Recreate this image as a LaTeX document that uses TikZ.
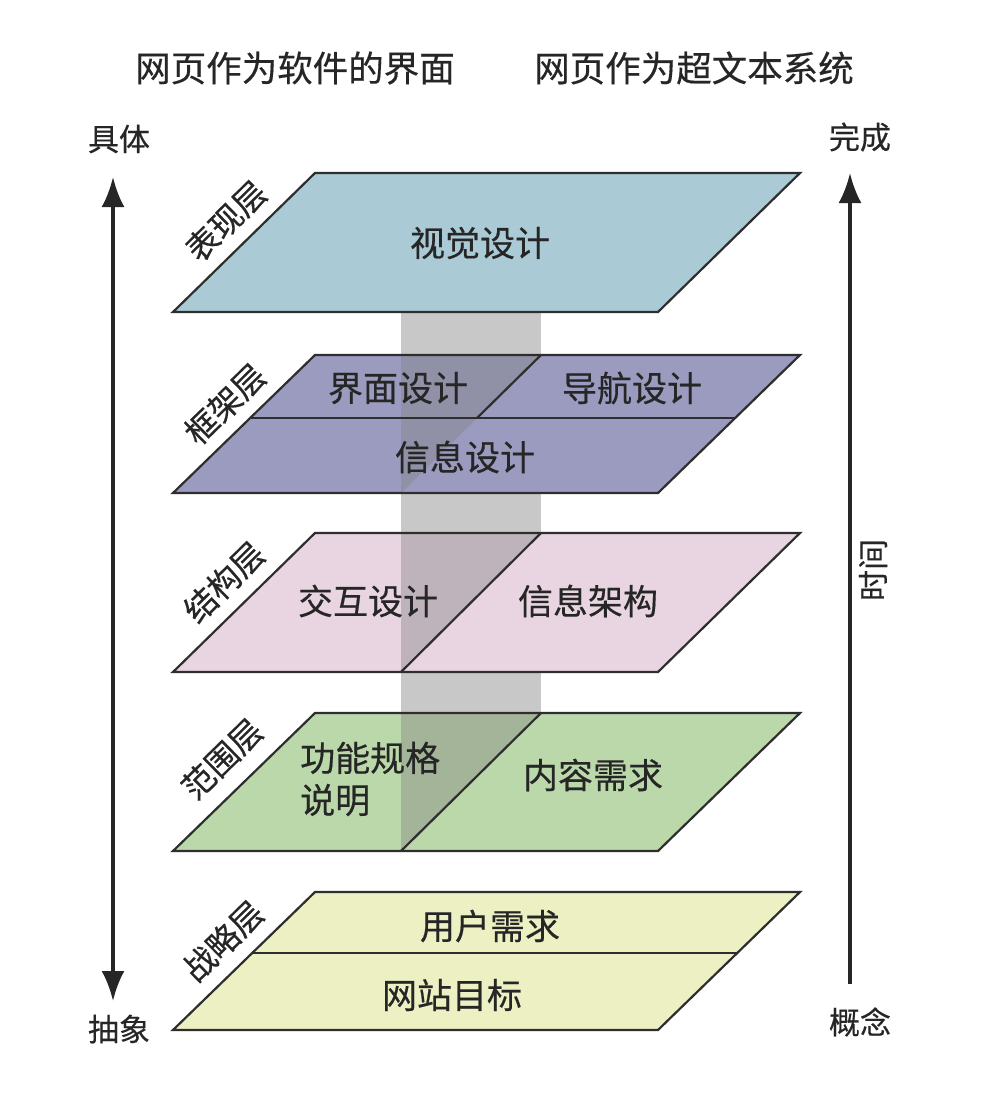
\documentclass[tikz,border=0pt]{standalone}
\usepackage{fontspec}
\setmainfont[FakeBold=0.4]{Noto Sans CJK SC}
\usetikzlibrary{arrows.meta}
\definecolor{edgec}{HTML}{2E2E2E}
\definecolor{txt}{HTML}{262626}
\definecolor{cA}{HTML}{AACBD6}
\definecolor{cB}{HTML}{9B9BC0}
\definecolor{cC}{HTML}{E8D5E1}
\definecolor{cD}{HTML}{BBD8AB}
\definecolor{cE}{HTML}{ECF0C2}
\definecolor{band}{HTML}{C8C8C8}
\tikzset{
  layerfill/.style={fill=#1},
  outline/.style={draw=edgec, line width=2.2pt, line join=miter},
  overlay/.style={fill=black!50, fill opacity=0.4},
  lbl/.style={font=\fontsize{35}{42}\selectfont, text=txt, inner sep=0pt},
  titlelbl/.style={font=\fontsize{35.5}{42}\selectfont, text=txt, inner sep=0pt},
  sidelbl/.style={font=\fontsize{32.5}{38}\selectfont, text=txt, inner sep=0pt, rotate=44.4},
  axislbl/.style={font=\fontsize{31}{36}\selectfont, text=txt, inner sep=0pt},
  axisline/.style={draw=txt, line width=3.6pt},
  tip/.style={-{Latex[length=30pt,width=23pt]}}
}
\begin{document}
\begin{tikzpicture}[x=1pt,y=-1pt]
\useasboundingbox[fill=white] (0,0) rectangle (992,1100);

% gray band behind layers
\fill[band] (401,312) rectangle (541,851);

% layer fills
\foreach \t/\h/\c in {173/139/cA,355/138/cB,533/139/cC,713/138/cD,892/138/cE}{
  \fill[layerfill=\c] (315,\t) -- (800,\t) -- (658,\t+\h) -- (173,\t+\h) -- cycle;
}
% overlays of band inside layers 2-4
\foreach \t/\h in {355/138,533/139,713/138}{
  \fill[overlay] (401,\t) -- (541,\t) -- (401,\t+\h) -- cycle;
}
% outlines
\foreach \t/\h in {173/139,355/138,533/139,713/138,892/138}{
  \draw[outline] (315,\t) -- (800,\t) -- (658,\t+\h) -- (173,\t+\h) -- cycle;
}
% dividers
\draw[outline] (250,418) -- (735,418);
\draw[outline] (541,355) -- (477,418);
\draw[outline] (541,533) -- (401,672);
\draw[outline] (541,713) -- (401,851);
\draw[outline] (252,953) -- (737,953);

% layer labels
\node[sidelbl] (s1) at (226,221) {表现层};
\node[sidelbl] (s2) at (225,404) {框架层};
\node[sidelbl] (s3) at (224,582) {结构层};
\node[sidelbl] (s4) at (222,759) {范围层};
\node[sidelbl] (s5) at (223,941) {战略层};

% layer contents
\node[lbl] (v1) at (480,243) {视觉设计};
\node[lbl] (f1) at (398,388) {界面设计};
\node[lbl] (f2) at (632,388) {导航设计};
\node[lbl] (f3) at (465,457) {信息设计};
\node[lbl] (j1) at (368,601) {交互设计};
\node[lbl] (j2) at (588,601) {信息架构};
\node[lbl, align=left, anchor=west] (g1) at (300,779) {功能规格\\说明};
\node[lbl] (g2) at (593,775) {内容需求};
\node[lbl] (z1) at (490,926) {用户需求};
\node[lbl] (z2) at (452,995) {网站目标};

% titles
\node[titlelbl] (t1) at (295,68) {网页作为软件的界面};
\node[titlelbl] (t2) at (694,68) {网页作为超文本系统};

% left axis
\node[axislbl] (ju) at (119,139) {具体};
\node[axislbl] (ch) at (119,1029) {抽象};
\coordinate (la) at (113,177);
\coordinate (lb) at (113,1001);
\draw[axisline, {Latex[length=30pt,width=23pt]}-{Latex[length=30pt,width=23pt]}] (la) -- (lb);

% right axis
\node[axislbl] (wc) at (860,137) {完成};
\node[axislbl] (gn) at (860,1022) {概念};
\coordinate (ra) at (850,984);
\coordinate (rb) at (850,173);
\draw[axisline, tip] (ra) -- (rb);
\node[axislbl, rotate=90] (sj) at (873,570) {时间};
\end{tikzpicture}
\end{document}
